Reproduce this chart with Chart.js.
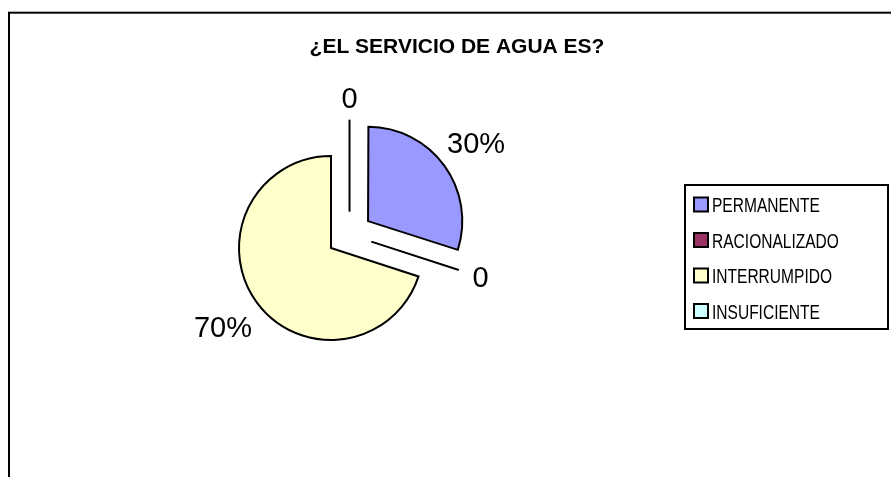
<!DOCTYPE html>
<html>
<head>
<meta charset="utf-8">
<script src="https://cdn.jsdelivr.net/npm/chart.js@4.4.1/dist/chart.umd.min.js"></script>
<style>
    html, body { margin: 0; padding: 0; background: #ffffff; }
</style>
</head>
<body>
<canvas id="chart" width="891" height="477"></canvas>
<script>
// Data
const TITLE = '¿EL SERVICIO DE AGUA ES?';
const CATEGORIES = ['PERMANENTE', 'RACIONALIZADO', 'INTERRUMPIDO', 'INSUFICIENTE'];
const VALUES = [30, 0, 70, 0];

// Excel 97-2003 default pie palette
const COLORS = ['#9999FF', '#993366', '#FFFFCC', '#CCFFFF'];

const EXPLODE = 22.9;      // how far each slice sits from the real pie centre
const LABEL_GAP = 12;      // space between pie rim and value label
const LABEL_FONT = "29px 'Liberation Sans', Arial, sans-serif";
// no Arial Narrow here, so squeeze Liberation Sans sideways
const LEGEND_FONT = "21px 'Liberation Sans', Arial, sans-serif";
const LEGEND_SQUEEZE = 0.74;

const total = VALUES.reduce((a, b) => a + b, 0);
const valueText = (v) => v === 0 ? '0' : Math.round(v / total * 100) + '%';

// Chart.js anchors the big (yellow) slice at its centre; the true pie centre
// is EXPLODE px back along that slice's bisector.
function pieCentre(chart) {
    const arcs = chart.getDatasetMeta(0).data;
    const anchor = arcs[2];
    const mid = (anchor.startAngle + anchor.endAngle) / 2;
    return { x: anchor.x - Math.cos(mid) * EXPLODE, y: anchor.y - Math.sin(mid) * EXPLODE };
}

const excelDecor = {
    id: 'excelDecor',
    beforeDraw(chart) {
        const ctx = chart.ctx;
        ctx.save();
        // chart frame (runs off the right and bottom of the picture)
        ctx.strokeStyle = '#000';
        ctx.lineWidth = 2;
        ctx.strokeRect(9, 12.7, 1000, 1000);
        // title
        ctx.fillStyle = '#000';
        ctx.font = "bold 21px 'Liberation Sans', Arial, sans-serif";
        ctx.textAlign = 'center';
        ctx.textBaseline = 'alphabetic';
        ctx.fillText(TITLE, 457, 53);
        ctx.restore();
    },
    afterDatasetsDraw(chart) {
        const ctx = chart.ctx;
        const arcs = chart.getDatasetMeta(0).data;
        const c = pieCentre(chart);
        const r = arcs[0].outerRadius;
        ctx.save();

        // zero-valued slices show up as bare radii
        ctx.strokeStyle = '#000';
        ctx.lineWidth = 2;
        arcs.forEach((arc, i) => {
            if (VALUES[i] !== 0) return;
            const a = arc.startAngle;
            ctx.beginPath();
            ctx.moveTo(c.x + Math.cos(a) * EXPLODE, c.y + Math.sin(a) * EXPLODE);
            ctx.lineTo(c.x + Math.cos(a) * (EXPLODE + r), c.y + Math.sin(a) * (EXPLODE + r));
            ctx.stroke();
        });

        // value labels outside the slices
        ctx.font = LABEL_FONT;
        ctx.fillStyle = '#000';
        ctx.textAlign = 'center';
        ctx.textBaseline = 'alphabetic';
        const capH = 20.5;
        arcs.forEach((arc, i) => {
            const mid = (arc.startAngle + arc.endAngle) / 2;
            const dx = Math.cos(mid), dy = Math.sin(mid);
            const txt = valueText(VALUES[i]);
            const w = ctx.measureText(txt).width;
            const dist = r + EXPLODE + LABEL_GAP + Math.abs(dx) * w / 2 + Math.abs(dy) * capH / 2;
            ctx.fillText(txt, c.x + dx * dist, c.y + dy * dist + capH / 2);
        });

        // legend box
        ctx.lineWidth = 2;
        ctx.strokeStyle = '#000';
        ctx.strokeRect(685, 185, 203, 144);
        CATEGORIES.forEach((name, i) => {
            const y = 204.5 + i * 35.5;
            ctx.fillStyle = COLORS[i];
            ctx.fillRect(694, y - 7, 14, 14);
            ctx.strokeRect(694, y - 7, 14, 14);
            ctx.save();
            ctx.translate(712, y + 7.5);
            ctx.scale(LEGEND_SQUEEZE, 1);
            ctx.font = LEGEND_FONT;
            ctx.fillStyle = '#000';
            ctx.textAlign = 'left';
            ctx.textBaseline = 'alphabetic';
            ctx.fillText(name, 0, 0);
            ctx.restore();
        });
        ctx.restore();
    }
};

new Chart(document.getElementById('chart').getContext('2d'), {
    type: 'pie',
    data: {
        labels: CATEGORIES,
        datasets: [{
            data: VALUES,
            backgroundColor: COLORS,
            borderColor: '#000000',
            borderWidth: 2,
            borderJoinStyle: 'miter',
            // Chart.js moves an arc by offset / 4; the blue slice travels 2 * EXPLODE
            offset: [8 * EXPLODE, 0, 0, 0]
        }]
    },
    options: {
        responsive: false,
        animation: false,
        devicePixelRatio: 1,
        radius: 92,
        layout: { padding: { left: 0, right: 229, top: 19, bottom: 0 } },
        plugins: {
            legend: { display: false },
            title: { display: false },
            tooltip: { enabled: false }
        }
    },
    plugins: [excelDecor]
});
</script>
</body>
</html>
